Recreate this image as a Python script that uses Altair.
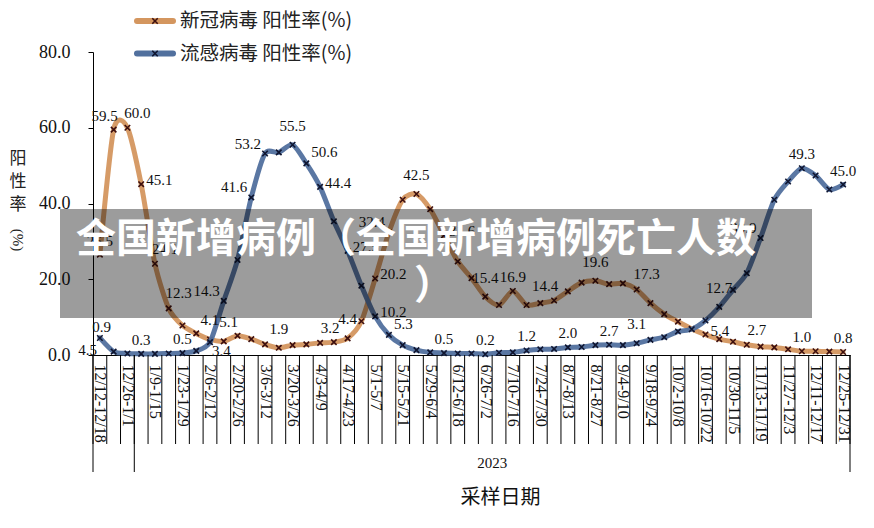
import json
import altair as alt
import pandas as pd
import numpy as np

# ---------------- data ----------------
weeks = [
    "12/12-12/18", "12/19-12/25", "12/26-1/1",
    "1/2-1/8", "1/9-1/15", "1/16-1/22", "1/23-1/29", "1/30-2/5", "2/6-2/12", "2/13-2/19",
    "2/20-2/26", "2/27-3/5", "3/6-3/12", "3/13-3/19", "3/20-3/26", "3/27-4/2", "4/3-4/9",
    "4/10-4/16", "4/17-4/23", "4/24-4/30", "5/1-5/7", "5/8-5/14", "5/15-5/21", "5/22-5/28",
    "5/29-6/4", "6/5-6/11", "6/12-6/18", "6/19-6/25", "6/26-7/2", "7/3-7/9", "7/10-7/16",
    "7/17-7/23", "7/24-7/30", "7/31-8/6", "8/7-8/13", "8/14-8/20", "8/21-8/27", "8/28-9/3",
    "9/4-9/10", "9/11-9/17", "9/18-9/24", "9/25-10/1", "10/2-10/8", "10/9-10/15",
    "10/16-10/22", "10/23-10/29", "10/30-11/5", "11/6-11/12", "11/13-11/19", "11/20-11/26",
    "11/27-12/3", "12/4-12/10", "12/11-12/17", "12/18-12/24", "12/25-12/31",
]

covid = [
    26.5, 59.5, 60.0, 45.1, 24.1, 12.3, 7.8, 5.7, 4.1, 3.6,
    5.1, 4.2, 2.8, 1.9, 2.6, 2.8, 3.2, 3.4, 4.4, 8.9,
    20.2, 32.4, 41.0, 42.5, 38.5, 31.6, 24.7, 20.3, 15.4, 13.2,
    16.9, 13.2, 13.7, 14.4, 16.8, 19.1, 19.6, 18.7, 18.9, 17.3,
    13.7, 10.8, 8.8, 6.9, 5.4, 4.2, 3.5, 2.7, 2.2, 2.0,
    1.5, 1.0, 1.0, 0.9, 0.8,
]

flu = [
    4.5, 0.9, 0.4, 0.3, 0.3, 0.4, 0.5, 1.1, 3.4, 14.3,
    25.1, 41.6, 53.2, 53.5, 55.5, 50.6, 44.4, 35.3, 27.5, 18.3,
    10.2, 5.3, 2.6, 1.3, 0.7, 0.5, 0.4, 0.4, 0.2, 0.6,
    0.7, 1.2, 1.5, 1.6, 2.0, 2.1, 2.6, 2.7, 2.6, 3.1,
    4.0, 4.7, 6.2, 6.8, 9.1, 12.7, 17.2, 21.6, 30.9, 41.0,
    45.8, 49.3, 47.4, 43.7, 45.0,
]

series_names = ["新冠病毒 阳性率(%)", "流感病毒 阳性率(%)"]

covid_label_idx = [0, 1, 2, 3, 4, 5, 8, 10, 13, 16, 18, 20, 21, 23, 25, 28, 30, 33, 36, 39, 44, 47, 51, 54]
covid_label_pos = ["above", "aboveL", "aboveR", "right", "aboveR", "aboveR", "high", "aboveL",
                   "high", "aboveR", "high", "right", "upleft", "high", "right", "high", "above",
                   "aboveL", "high", "aboveR", "right", "aboveR", "above", "above"]

flu_label_idx = [0, 1, 3, 6, 8, 9, 11, 12, 14, 15, 16, 18, 20, 21, 25, 28, 31, 34, 37, 39, 45, 48, 51, 54]
flu_label_pos = ["belowleft", "farupleft", "above", "above", "belowright", "upleft", "upleft",
                 "upleft", "high", "upright", "right", "right", "right", "upright", "above",
                 "above", "above", "above", "above", "high", "high", "upleft", "above", "above"]

year_groups = ["", "2023"]
year_first = [0, 3]
year_last = [2, 54]

y_ticks = [0, 20, 40, 60, 80]
x_title = "采样日期"
y_title_chars = ["阳", "性", "率"]
y_title_unit = "(%)"
banner_lines = ["全国新增病例（全国新增病例死亡人数", "）"]

# ---------------- styles ----------------
W, H = 757, 303
COLORS = ["#D4965F", "#51709E"]
MARKER_COLORS = ["#3d0f0f", "#0f1530"]
X_PATH = "M-1,-1L1,1M-1,1L1,-1"
SERIF = "Liberation Serif"
CJK = "Noto Sans CJK SC"
OFF = {
    "above": (0, -14, "center"),
    "high": (0, -19, "center"),
    "aboveL": (-9, -14, "center"),
    "aboveR": (10, -15, "center"),
    "right": (5, -4, "left"),
    "upright": (5, -11, "left"),
    "upleft": (-4, -10, "right"),
    "belowright": (2, 9, "left"),
    "belowleft": (-3, 12, "right"),
    "farupleft": (-12, -25, "center"),
}
LEGEND_Y = [-31, 1.5]

# ---------------- frames ----------------
n = len(weeks)
series_vals = [covid, flu]
label_idx = [covid_label_idx, flu_label_idx]
label_pos = [covid_label_pos, flu_label_pos]

xscale = alt.Scale(domain=[-0.5, n - 0.5], nice=False, zero=False)
yscale = alt.Scale(domain=[0, 80], nice=False, zero=False)

label_expr = "[" + ",".join(json.dumps(w) for w in weeks) + "][datum.value]"

x_axis = alt.Axis(
    values=list(range(0, n, 2)), labelExpr=label_expr, labelAngle=90, labelAlign="left",
    labelBaseline="middle", labelFont=SERIF, labelFontSize=16, labelColor="#111",
    labelPadding=9, labelOverlap=False, labelFlush=False, ticks=False, grid=False,
    domainColor="black", domainWidth=1, title=x_title, titleFont=CJK, titleFontSize=20,
    titleFontWeight="normal", titleColor="#111", titleX=407, titleY=142,
    titleBaseline="middle", titleAlign="center",
)
y_axis = alt.Axis(
    values=y_ticks, format=".1f", labelFont=SERIF, labelFontSize=18, labelColor="#111",
    tickSize=5, tickColor="black", domainColor="black", labelPadding=18, grid=False,
    title=None,
)


def X(field):
    return alt.X(field, scale=xscale, axis=x_axis)


def Y(field):
    return alt.Y(field, scale=yscale, axis=y_axis)


layers = []

# data lines and markers
for k, name in enumerate(series_names):
    df = pd.DataFrame({"idx": np.arange(n), "week": weeks, "value": series_vals[k], "series": name})
    line = alt.Chart(df).mark_line(
        interpolate="cardinal", tension=0.25, strokeWidth=5, color=COLORS[k], opacity=0.95,
        strokeCap="round"
    ).encode(x=X("idx:Q"), y=Y("value:Q"))
    pts = alt.Chart(df).mark_point(
        shape=X_PATH, size=30, filled=False, strokeWidth=1.6, color=MARKER_COLORS[k], opacity=1
    ).encode(x=X("idx:Q"), y=Y("value:Q"))
    layers += [line, pts]

# category boundary lines (axis decoration)
bounds = pd.DataFrame({"idx": np.arange(n + 1) - 0.5})
layers.append(
    alt.Chart(bounds).mark_rule(color="black", strokeWidth=1).encode(
        x=X("idx:Q"), y=alt.value(H), y2=alt.value(H + 89)
    )
)
edges = pd.DataFrame({"idx": [f - 0.5 for f in year_first] + [year_last[-1] + 0.5]})
layers.append(
    alt.Chart(edges).mark_rule(color="black", strokeWidth=1).encode(
        x=X("idx:Q"), y=alt.value(H), y2=alt.value(H + 117)
    )
)
years = pd.DataFrame({"g": year_groups, "idx": [(a + b) / 2 for a, b in zip(year_first, year_last)]})
layers.append(
    alt.Chart(years).mark_text(font=SERIF, fontSize=15, color="#111", baseline="middle").encode(
        x=X("idx:Q"), y=alt.value(H + 108), text="g:N"
    )
)

# data labels
lab_rows = []
for k, name in enumerate(series_names):
    for i, p in zip(label_idx[k], label_pos[k]):
        lab_rows.append({"idx": i, "value": series_vals[k][i], "txt": f"{series_vals[k][i]:.1f}", "pos": p})
labels = pd.DataFrame(lab_rows)
for p, (dx, dy, al) in OFF.items():
    sub = labels[labels["pos"] == p]
    if len(sub) == 0:
        continue
    layers.append(
        alt.Chart(sub).mark_text(
            font=SERIF, fontSize=15, color="#111", dx=dx, dy=dy, align=al, baseline="middle"
        ).encode(x=X("idx:Q"), y=Y("value:Q"), text="txt:N")
    )

one = pd.DataFrame({"a": [0]})

# y title
layers.append(
    alt.Chart(one).mark_text(font=CJK, fontSize=17, color="#222", baseline="top", align="center",
                             lineHeight=23).encode(
        x=alt.value(-75), y=alt.value(99), text=alt.value(y_title_chars)
    )
)
layers.append(
    alt.Chart(one).mark_text(font=SERIF, fontSize=15, color="#222", baseline="middle", align="center",
                             angle=90).encode(
        x=alt.value(-75), y=alt.value(188), text=alt.value(y_title_unit)
    )
)

# legend
for k, name in enumerate(series_names):
    ldf = pd.DataFrame({"s": [name]})
    ly = LEGEND_Y[k]
    layers.append(
        alt.Chart(ldf).mark_rule(color=COLORS[k], strokeWidth=6, strokeCap="round").encode(
            x=alt.value(44), x2=alt.value(80), y=alt.value(ly)
        )
    )
    layers.append(
        alt.Chart(ldf).mark_point(shape=X_PATH, size=30, filled=False, strokeWidth=1.6,
                                  color=MARKER_COLORS[k], opacity=1).encode(
            x=alt.value(62), y=alt.value(ly)
        )
    )
    layers.append(
        alt.Chart(ldf).mark_text(font=CJK, fontSize=19.5, color="#222", align="left",
                                 baseline="middle").encode(
            x=alt.value(87), y=alt.value(ly), text="s:N"
        )
    )

# overlay banner
layers.append(
    alt.Chart(one).mark_rect(color="black", opacity=0.39).encode(
        x=alt.value(-33), x2=alt.value(719), y=alt.value(157), y2=alt.value(266)
    )
)
banner = pd.DataFrame({"t": banner_lines})
layers.append(
    alt.Chart(banner.iloc[[0]]).mark_text(font=CJK, fontSize=40, fontWeight="bold", color="white",
                                          align="left", baseline="middle").encode(
        x=alt.value(-17), y=alt.value(188), text="t:N"
    )
)
layers.append(
    alt.Chart(banner.iloc[[1]]).mark_text(font=CJK, fontSize=40, fontWeight="bold", color="white",
                                          align="left", baseline="middle").encode(
        x=alt.value(321), y=alt.value(235), text="t:N"
    )
)

chart = alt.layer(*layers).properties(
    width=W, height=H,
    padding={"left": 93, "top": 52, "right": 24, "bottom": 173},
    autosize=alt.AutoSizeParams(type="none"),
    background="white",
).configure_view(stroke=None)

chart.save("out.html", embed_options={"renderer": "svg", "actions": False})
